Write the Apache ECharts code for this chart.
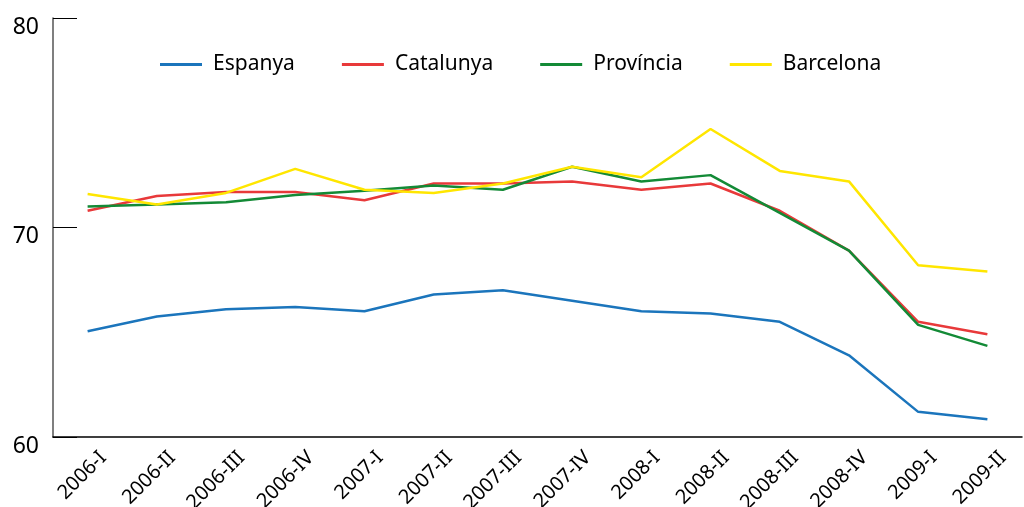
<!DOCTYPE html>
<html><head><meta charset="utf-8">
<script src="https://cdn.jsdelivr.net/npm/echarts@6/dist/echarts.min.js"></script>
<style>html,body{margin:0;padding:0;background:#fff}#c{width:1024px;height:507px}</style>
</head><body><div id="c"></div>
<script>
const categories = ['2006-I','2006-II','2006-III','2006-IV','2007-I','2007-II','2007-III','2007-IV','2008-I','2008-II','2008-III','2008-IV','2009-I','2009-II'];
const espanya   = [65.05, 65.75, 66.1, 66.2, 66.0, 66.8, 67.0, 66.5, 66.0, 65.9, 65.5, 63.9, 61.2, 60.85];
const catalunya = [70.8, 71.5, 71.7, 71.7, 71.3, 72.1, 72.1, 72.2, 71.8, 72.1, 70.8, 68.9, 65.5, 64.9];
const provincia = [71.0, 71.1, 71.2, 71.55, 71.75, 72.0, 71.8, 72.9, 72.2, 72.5, 70.7, 68.9, 65.35, 64.35];
const barcelona = [71.6, 71.1, 71.65, 72.8, 71.8, 71.65, 72.1, 72.9, 72.4, 74.7, 72.7, 72.2, 68.2, 67.9];
const yTicks = [60, 70, 80];

const FONT = 'Noto Sans';
const chart = echarts.init(document.getElementById('c'));
const mk = (name, data, color) => ({
  name, type: 'line', data, symbol: 'none', smooth: false,
  lineStyle: { color, width: 2.5 }, itemStyle: { color }
});
chart.setOption({
  animation: false,
  backgroundColor: '#fff',
  textStyle: { fontFamily: FONT },
  legend: {
    left: 155, top: 49, itemWidth: 42, itemHeight: 3, itemGap: 47,
    icon: 'rect',
    textStyle: { fontSize: 21, color: '#000', fontFamily: FONT, padding: [0, 0, 0, 6] },
    data: ['Espanya', 'Catalunya', 'Província', 'Barcelona']
  },
  grid: { left: 53, right: 2, top: 18, bottom: 70, containLabel: false, outerBoundsMode: 'none' },
  xAxis: {
    type: 'category', data: categories, boundaryGap: true,
    axisLine: { lineStyle: { color: '#000', width: 1.5 } },
    axisTick: { show: false },
    axisLabel: { rotate: 45, fontSize: 20, color: '#000', fontFamily: FONT, margin: 2, verticalAlign: 'top', lineHeight: 44, interval: 0, hideOverlap: false }
  },
  yAxis: {
    type: 'value', min: yTicks[0], max: yTicks[yTicks.length - 1], interval: 10,
    axisLine: { show: true, lineStyle: { color: '#555', width: 1.5 } },
    axisTick: { show: true, inside: true, length: 24, lineStyle: { color: '#000', width: 1 } },
    splitLine: { show: false },
    axisLabel: { fontSize: 23, color: '#000', fontFamily: FONT, margin: 14, verticalAlign: 'top', lineHeight: 18 }
  },
  series: [
    mk('Espanya', espanya, '#1b75bc'),
    mk('Catalunya', catalunya, '#e8393a'),
    mk('Província', provincia, '#138a36'),
    mk('Barcelona', barcelona, '#ffe600')
  ]
});
</script></body></html>
